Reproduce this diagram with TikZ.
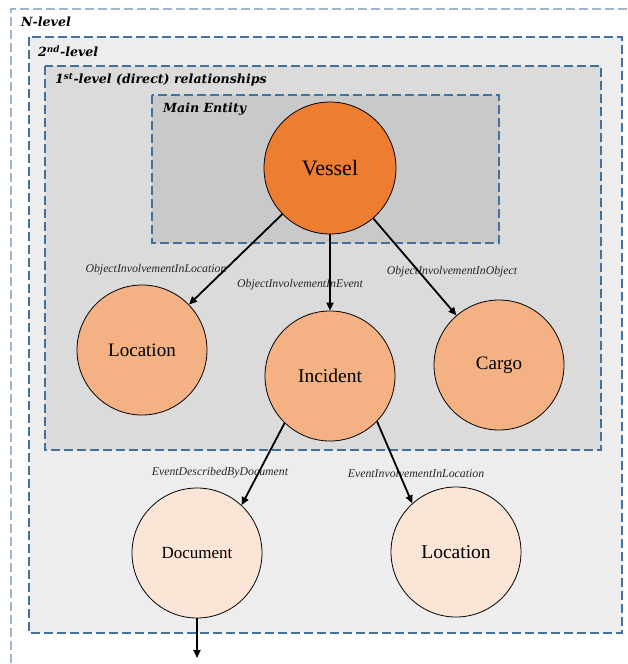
\documentclass[tikz,border=0pt]{standalone}
\usepackage{fontspec}
\setmainfont{Liberation Serif}
\newfontfamily\titlefont{DejaVu Serif}
\usetikzlibrary{arrows.meta}
\definecolor{boxline}{HTML}{41719C}
\definecolor{outerline}{HTML}{9FB6CC}
\definecolor{lvtwo}{HTML}{EDEDED}
\definecolor{lvone}{HTML}{DBDBDB}
\definecolor{mainfill}{HTML}{C9C9C9}
\definecolor{mainorange}{HTML}{ED7D31}
\definecolor{midorange}{HTML}{F4B183}
\definecolor{lightorange}{HTML}{FBE5D6}
\tikzset{
  levelbox/.style={draw=boxline, line width=1.2pt, dash pattern=on 9pt off 4pt},
  leveltitle/.style={anchor=west, font=\titlefont\fontsize{12.6}{15}\selectfont\bfseries\itshape, inner sep=0pt},
  entity/.style={circle, draw=black, line width=0.8pt, inner sep=0pt, minimum size=130pt},
  rel/.style={line width=1.8pt, -{Triangle[length=8pt,width=7pt]}},
  rellabel/.style={font=\fontsize{11.8}{13}\selectfont\itshape, text=black!85, inner sep=0pt},
}
\begin{document}
\begin{tikzpicture}[x=1pt,y=-1pt]
\useasboundingbox (0,0) rectangle (627,664);
% nested level boxes
\draw[draw=outerline, line width=1.2pt, dash pattern=on 9pt off 4pt] (627,9) -- (11,9) -- (11,664);
\draw[levelbox, fill=lvtwo] (29,37) rectangle (622,633);
\draw[levelbox, fill=lvone] (45,66) rectangle (601,450);
\draw[levelbox, fill=mainfill] (152,95) rectangle (499,243);
\node[leveltitle] (tN) at (21,22) {N-level};
\node[leveltitle] (t2) at (38,51) {2\textsuperscript{nd}-level};
\node[leveltitle] (t1) at (55,80) {1\textsuperscript{st}-level (direct) relationships};
\node[leveltitle] (tm) at (163,109) {Main Entity};
% entities
\node[entity, fill=mainorange, minimum size=132pt, font=\fontsize{22}{25}\selectfont] (vessel) at (330,168) {Vessel};
\node[entity, fill=midorange, font=\fontsize{19}{22}\selectfont] (loc1) at (142,350) {Location};
\node[entity, fill=midorange, font=\fontsize{19.5}{22}\selectfont] (incident) at (330,376) {Incident};
\node[entity, fill=midorange, font=\fontsize{19}{22}\selectfont] (cargo) at (499,365) {Cargo};
\node[entity, fill=lightorange, font=\fontsize{17}{20}\selectfont] (doc) at (197,553) {Document};
\node[entity, fill=lightorange, font=\fontsize{19.5}{22}\selectfont] (loc2) at (456,552) {Location};
% relationship labels
\node[rellabel] (l1) at (156,270) {ObjectInvolvementInLocation};
\node[rellabel] (l2) at (300,285) {ObjectInvolvementInEvent};
\node[rellabel] (l3) at (452,272) {ObjectInvolvementInObject};
\node[rellabel] (l4) at (220,473) {EventDescribedByDocument};
\node[rellabel] (l5) at (416,473) {EventInvolvementInLocation};
% relationships
\draw[rel] (vessel) -- (loc1);
\draw[rel] (vessel.south) -- (vessel.south |- incident.north);
\draw[rel] (vessel) -- (cargo);
\draw[rel] (incident.-134) -- (doc.47);
\draw[rel] (incident.-44) -- (loc2.132);
\coordinate (more) at (197,658);
\draw[rel] (doc.south) -- (more);
\end{tikzpicture}
\end{document}
